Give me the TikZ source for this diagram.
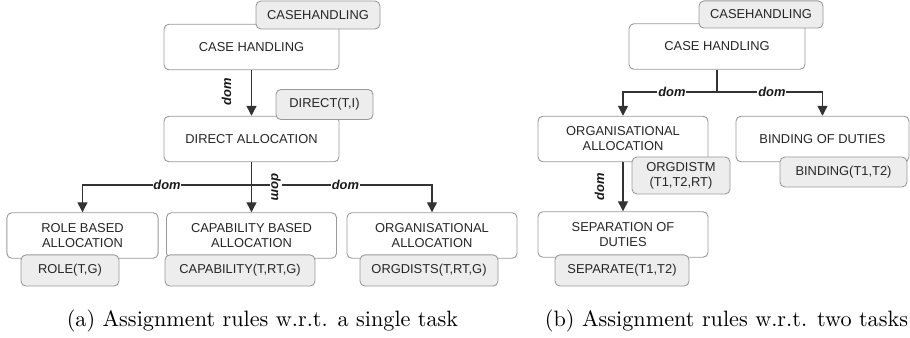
\documentclass[tikz,border=0pt]{standalone}
\usepackage{fontspec}
\setsansfont{Liberation Sans}
\usetikzlibrary{arrows.meta}

\begin{document}
\begin{tikzpicture}[x=0.45pt,y=-0.45pt,
  concept/.style={draw=black!40,fill=white,rounded corners=2.2pt,align=center,
    text=black!85,font=\sffamily\fontsize{5.8}{6.8}\selectfont,
    minimum width=76.5pt,minimum height=20.5pt,inner sep=0pt},
  rulebox/.style={concept,fill=black!7,minimum height=13.5pt},
  flow/.style={draw=black!80,line width=0.6pt,-{Triangle[length=4.5pt,width=4.5pt]}},
  link/.style={draw=black!80,line width=0.6pt},
  dom/.style={fill=white,inner sep=0.4pt,text=black!90,
    font=\sffamily\bfseries\itshape\fontsize{5.8}{6.8}\selectfont},
  subcap/.style={font=\normalsize}]
  \useasboundingbox (0,0) rectangle (910,338);

  \node[concept,minimum width=78.75pt] (ch1) at (251.5,47) {CASE HANDLING};
  \node[concept,minimum width=78.75pt] (da) at (251.5,139) {DIRECT ALLOCATION};
  \node[concept,minimum width=68pt] (role) at (82.5,235.5) {ROLE BASED\\ALLOCATION};
  \node[concept] (cap) at (251.5,235.5) {CAPABILITY BASED\\ALLOCATION};
  \node[concept] (org1) at (432,235.5) {ORGANISATIONAL\\ALLOCATION};
  \node[rulebox,minimum width=55.8pt,minimum height=12.6pt] (ch1rule) at (318,15) {CASEHANDLING};
  \node[rulebox,minimum width=43.65pt] (darule) at (324.5,104.5) {DIRECT(T,I)};
  \node[rulebox,minimum width=44.1pt,minimum height=14pt] (rolerule) at (70,270.5) {ROLE(T,G)};
  \node[rulebox,minimum width=67.5pt,minimum height=14pt] (caprule) at (240,270.5) {CAPABILITY(T,RT,G)};
  \node[rulebox,minimum width=62.1pt,minimum height=14pt] (orgrule) at (429,270.5) {ORGDISTS(T,RT,G)};

  \node[concept,minimum width=79.2pt] (ch2) at (717,46.5) {CASE HANDLING};
  \node[concept] (org2) at (623,139) {ORGANISATIONAL\\ALLOCATION};
  \node[concept,minimum width=77.85pt] (bind) at (822.5,139) {BINDING OF DUTIES};
  \node[concept] (sep) at (623,234.5) {SEPARATION OF\\DUTIES};
  \node[rulebox,minimum width=55.8pt,minimum height=12.2pt] (ch2rule) at (761,14.5) {CASEHANDLING};
  \node[rulebox,minimum width=44.1pt,minimum height=16.65pt] (org2rule) at (681,175.5) {ORGDISTM\\(T1,T2,RT)};
  \node[rulebox,minimum width=57.15pt] (bindrule) at (843.5,172) {BINDING(T1,T2)};
  \node[rulebox,minimum width=60.3pt,minimum height=14pt] (seprule) at (622,270.5) {SEPARATE(T1,T2)};

  \coordinate (fork1) at (251.5,185);
  \coordinate (fork2) at (717,92);

  \draw[flow] (ch1) -- node[dom,pos=0.48,xshift=-11.25pt,rotate=90] {dom} (da);
  \draw[flow] (fork1) -| node[dom,pos=0.25] {dom} (role.north);
  \draw[flow] (fork1) -| node[dom,pos=0.26] {dom} (org1.north);
  \draw[flow] (da) -- node[dom,xshift=11pt,rotate=-90] {dom} (cap);

  \draw[link] (ch2) -- (fork2);
  \draw[flow] (fork2) -| node[dom,pos=0.24] {dom} (org2.north);
  \draw[flow] (fork2) -| node[dom,pos=0.26] {dom} (bind.north);
  \draw[flow] (org2) -- node[dom,xshift=-10.6pt,rotate=90] {dom} (sep);

  \node[subcap] (capa) at (262.5,321) {(a) Assignment rules w.r.t. a single task};
  \node[subcap] (capb) at (726.5,321) {(b) Assignment rules w.r.t. two tasks};
\end{tikzpicture}
\end{document}
